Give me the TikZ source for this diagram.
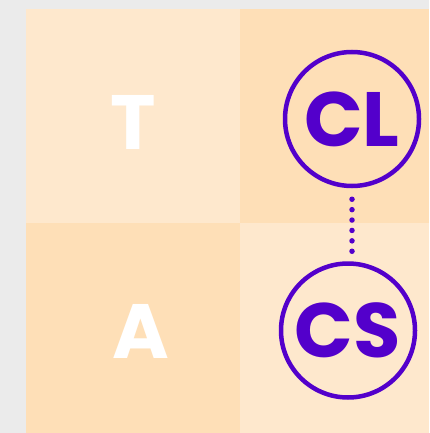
\documentclass[tikz,border=0pt]{standalone}
\usepackage{fontspec}
\setmainfont{Poppins}
\definecolor{pagegray}{HTML}{EBEBEB}
\definecolor{peachlight}{HTML}{FEE8CD}
\definecolor{peachdark}{HTML}{FEDFB7}
\definecolor{ringpurple}{HTML}{5300CB}
\begin{document}
\begin{tikzpicture}[
  x=1pt,
  y=-1pt,
  line cap=round,
  line join=round,
  letter/.style={font=\fontsize{77}{80}\selectfont\bfseries},
  ring/.style={
    draw=ringpurple,
    line width=4.5pt,
    circle,
    inner sep=0pt,
    minimum size=134pt,
    text=ringpurple,
    letter
  }
]
  \def\gridleft{25.5}
  \def\gridmid{240}
  \def\gridtop{9.3}
  \def\gridrow{222.5}

  % Hintergrund
  \fill[pagegray] (0,0) rectangle (429,433);
  \useasboundingbox (0,0) rectangle (429,433);

  % Felder
  \fill[peachlight] (\gridleft,\gridtop) rectangle (\gridmid,\gridrow);
  \fill[peachdark] (\gridmid,\gridtop) rectangle (429,\gridrow);
  \fill[peachdark] (\gridleft,\gridrow) rectangle (\gridmid,433);
  \fill[peachlight] (\gridmid,\gridrow) rectangle (429,433);

  % Buchstaben links
  \node[letter, text=white] (t) at (133,122) {T};
  \node[letter, text=white] (a) at (140.5,331.5) {A};

  % Kreise rechts
  \node[ring] (cl) at (352,119) {CL};
  \node[ring] (cs) at (348,330.5) {CS};

  \draw[
    ringpurple,
    line width=5.5pt,
    dash pattern=on 0pt off 10.4pt,
    shorten <=11pt,
    shorten >=8pt
  ]
    (cl.south) -- (cl.south |- cs.north);
\end{tikzpicture}
\end{document}
